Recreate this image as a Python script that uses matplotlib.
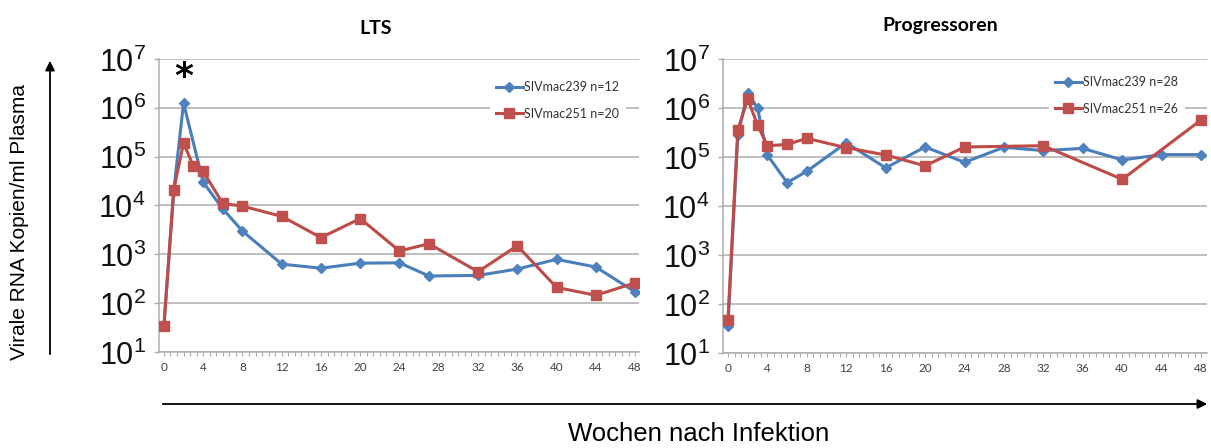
import matplotlib

matplotlib.use("Agg")
import matplotlib.pyplot as plt  # noqa: E402
from matplotlib.patches import FancyArrowPatch  # noqa: E402
from matplotlib.ticker import FixedLocator, MultipleLocator, NullLocator  # noqa: E402

plt.rcParams["mathtext.fontset"] = "custom"
plt.rcParams["mathtext.rm"] = "Liberation Sans"
plt.rcParams["mathtext.it"] = "Liberation Sans:italic"

# viral load (copies/ml), weeks post infection
lts_weeks_239 = [0, 1, 2, 4, 6, 8, 12, 16, 20, 24, 27, 32, 36, 40, 44, 48]
lts_vl_239 = [34, 2.0e4, 1.25e6, 3.0e4, 8.5e3, 3.0e3, 630, 520, 660, 670,
              360, 370, 500, 790, 550, 170]
lts_weeks_251 = [0, 1, 2, 3, 4, 6, 8, 12, 16, 20, 24, 27, 32, 36, 40, 44, 48]
lts_vl_251 = [34, 2.1e4, 1.9e5, 6.4e4, 5.0e4, 1.1e4, 9.7e3, 6.0e3, 2.2e3,
              5.4e3, 1.17e3, 1.65e3, 440, 1.5e3, 210, 145, 260]

prog_weeks_239 = [0, 1, 2, 3, 4, 6, 8, 12, 16, 20, 24, 28, 32, 36, 40, 44, 48]
prog_vl_239 = [35, 2.8e5, 2.05e6, 1.0e6, 1.1e5, 3.0e4, 5.1e4, 1.95e5, 6.0e4,
               1.6e5, 7.8e4, 1.58e5, 1.35e5, 1.5e5, 8.7e4, 1.12e5, 1.12e5]
prog_weeks_251 = [0, 1, 2, 3, 4, 6, 8, 12, 16, 20, 24, 32, 40, 48]
prog_vl_251 = [47, 3.5e5, 1.55e6, 4.5e5, 1.7e5, 1.8e5, 2.4e5, 1.55e5, 1.1e5,
               6.6e4, 1.6e5, 1.7e5, 3.5e4, 5.7e5]

panel_titles = ["LTS", "Progressoren"]
legend_labels = [("SIVmac239 n=12", "SIVmac251 n=20"),
                 ("SIVmac239 n=28", "SIVmac251 n=26")]
x_ticks = list(range(0, 49, 4))
y_ticks = [10 ** k for k in range(1, 8)]
y_ticklabels = [f"$10^{{{k}}}$" for k in range(1, 8)]

BLUE = "#4A7EBB"
BLUE_MK = "#4F81BD"
RED = "#BE4B48"
RED_MK = "#C0504D"
GRID = "#ADADAD"
W, H = 1211, 448


def _style_axes(ax, xmax):
    ax.set_yscale("log")
    ax.set_ylim(10, 1e7)
    ax.set_xlim(-0.5, xmax)
    ax.yaxis.set_major_locator(FixedLocator(y_ticks))
    ax.yaxis.set_minor_locator(NullLocator())
    ax.set_yticklabels(y_ticklabels, fontsize=22, color="#111111")
    ax.xaxis.set_major_locator(FixedLocator(x_ticks))
    ax.xaxis.set_minor_locator(MultipleLocator(2 / 3))
    ax.set_xticklabels([str(t) for t in x_ticks], fontsize=8.5,
                       family="Lato", color="#404040")
    ax.grid(True, axis="y", color=GRID, lw=1.1)
    ax.set_axisbelow(True)
    for s in ("top", "right"):
        ax.spines[s].set_visible(False)
    for s in ("left", "bottom"):
        ax.spines[s].set_color(GRID)
        ax.spines[s].set_linewidth(1.1)
    ax.tick_params(axis="y", which="major", length=3.5, color=GRID, width=1,
                   pad=6)
    ax.tick_params(axis="x", which="both", length=3, color=GRID, width=0.8,
                   pad=4)


def _draw(ax, w239, v239, w251, v251, labels):
    ax.plot(w239, v239, color=BLUE, lw=2.2, marker="D", ms=4.6,
            mfc=BLUE_MK, mec=BLUE_MK, label=labels[0], zorder=3)
    ax.plot(w251, v251, color=RED, lw=2.2, marker="s", ms=7.2,
            mfc=RED_MK, mec=RED_MK, label=labels[1], zorder=4)


fig = plt.figure(figsize=(W / 100, H / 100), dpi=100)

ax1 = fig.add_axes([159 / W, 1 - 352 / H, 480 / W, 293 / H])
ax2 = fig.add_axes([723 / W, 1 - 353 / H, 484 / W, 294 / H])

_draw(ax1, lts_weeks_239, lts_vl_239, lts_weeks_251, lts_vl_251,
      legend_labels[0])
_draw(ax2, prog_weeks_239, prog_vl_239, prog_weeks_251, prog_vl_251,
      legend_labels[1])
_style_axes(ax1, 48.4)
_style_axes(ax2, 48.6)

ax1.text(2, 4.2e6, "*", ha="center", va="center", fontsize=26,
         fontweight="bold", color="black")

for ax, (x0, y0) in ((ax1, (490, 75)), (ax2, (1049, 70))):
    leg = ax.legend(loc="upper left",
                    bbox_to_anchor=(x0 / W, 1 - y0 / H),
                    bbox_transform=fig.transFigure,
                    prop={"family": "Lato", "size": 9},
                    frameon=True, framealpha=1, edgecolor="none",
                    facecolor="white", fancybox=False,
                    handlelength=2.1, handletextpad=0.15,
                    labelspacing=1.15, borderpad=0.5, borderaxespad=0)
    leg.set_zorder(5)
    for t in leg.get_texts():
        t.set_color("#333333")

fig.text(376 / W, 1 - 28 / H, panel_titles[0], ha="center", va="center",
         fontsize=14, fontweight="bold", family="Lato")
fig.text(940 / W, 1 - 25 / H, panel_titles[1], ha="center", va="center",
         fontsize=14, fontweight="bold", family="Lato")

fig.text(20 / W, 1 - 222 / H, "Virale RNA Kopien/ml Plasma", rotation=90,
         ha="center", va="center", fontsize=15, family="Liberation Sans")
fig.text(699 / W, 2 / H, "Wochen nach Infektion", ha="center",
         va="bottom", fontsize=18.5, family="Liberation Sans")

fig.add_artist(FancyArrowPatch((50 / W, 1 - 357 / H), (50 / W, 1 - 58 / H),
                               transform=fig.transFigure, arrowstyle="-|>",
                               mutation_scale=14, lw=1.3, color="black"))
fig.add_artist(FancyArrowPatch((160 / W, 1 - 404 / H), (1210 / W, 1 - 404 / H),
                               transform=fig.transFigure, arrowstyle="-|>",
                               mutation_scale=14, lw=1.3, color="black"))

fig.savefig("out.png", dpi=100)
